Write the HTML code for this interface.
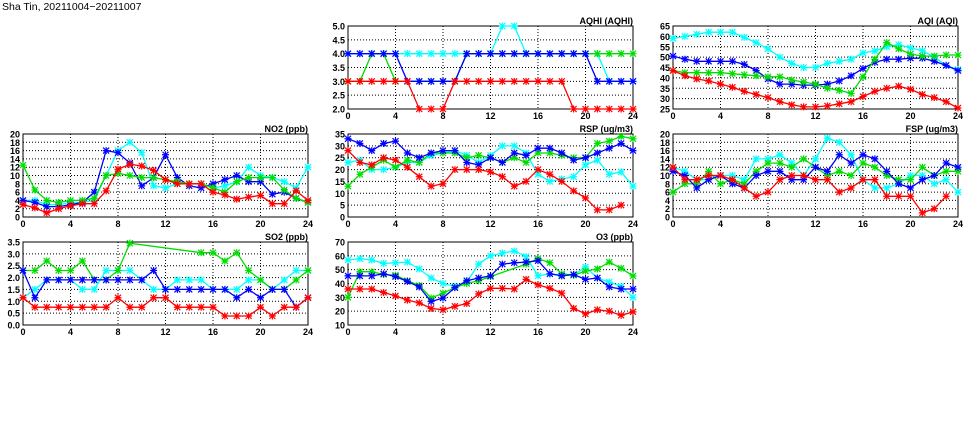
<!DOCTYPE html>
<html><head><meta charset="utf-8"><style>
body{margin:0;background:#fff;width:975px;height:447px;overflow:hidden}
svg{display:block}
text{font-family:"Liberation Sans",sans-serif;font-size:9px;font-weight:bold;fill:#000}
</style></head><body>
<svg id="s" width="975" height="447" xmlns="http://www.w3.org/2000/svg">
<text x="2" y="10" style="font-size:10.5px;font-weight:normal">Sha Tin, 20211004−20211007</text>
</svg>
<script>
var N=null;
function seq(a){return a.map(function(v,i){return v===N?null:[i,v];}).filter(function(p){return p;});}
var C={r:"#ff0000",g:"#00dd00",b:"#0000ff",c:"#00ffff"};
var panels=[
{t:"AQHI (AQHI)",x:348,y:26,min:2,max:5,step:0.5,dec:1,s:[
["c",seq([4,4,4,4,4,4,4,4,4,4,4,4,4,5,5,4,4,4,4,4,4,4,3,3,3])],
["g",seq([3,3,4,4,3,3,3,3,3,3,4,4,4,4,4,4,4,4,4,4,4,4,4,4,4])],
["b",seq([4,4,4,4,4,3,3,3,3,3,4,4,4,4,4,4,4,4,4,4,4,3,3,3,3])],
["r",seq([3,3,3,3,3,3,2,2,2,3,3,3,3,3,3,3,3,3,3,2,2,2,2,2,2])]]},
{t:"AQI (AQI)",x:673,y:26,min:25,max:65,step:5,dec:0,s:[
["c",seq([59,60,61,62,62,62,59.5,57,54,50,47,45,45,47,48,49,52,53,55,56,54.5,53,50,46,44])],
["b",seq([50.5,49,48,48,48,48,46.5,43.5,39.5,37,37,36.5,36.5,37,38.5,41,44.5,47.5,49,49,49.5,49.5,48,46,43.5])],
["g",seq([43.5,42.5,42.5,42.5,42.5,42,41.5,41,40.5,40.5,39,38,37,35,34,32.5,40.5,49,57,54,51.5,50.5,50.5,51,51])],
["r",seq([43.5,41,39.5,38.5,37,35.5,33.5,32,30.5,28.5,27,26,26,26.5,27.5,28.5,31,33.5,35,36,34.5,32,30.5,28.5,25.5])]]},
{t:"NO2 (ppb)",x:23,y:134,min:0,max:20,step:2,dec:0,s:[
["c",seq([4,4,3,3,3.5,3.5,4,10,16,18,15.5,7.5,7,8,8,8,7,7.5,8.5,12,10,9.5,8.5,7,12])],
["b",seq([4,3.5,2.5,2.5,3,3.5,6,16,15.5,13,7.5,9.5,15,9.5,7.5,7,8,9,10,8.5,8.5,5.5,6,4.5,3.5])],
["g",seq([12.5,6.5,4,3.5,4,4,4.5,10,10.5,10,9.5,9.5,9,8.5,8,8,7,6,8.5,9.5,9.5,9.5,6.5,4.5,3.5])],
["r",seq([3,2.2,1,2,2.7,3.2,3.2,6.3,11.5,12.7,12.3,11.2,9,8,8,8,6,5.3,4.3,4.8,5.2,3.2,3.2,6.3,4])]]},
{t:"RSP (ug/m3)",x:348,y:134,min:0,max:35,step:5,dec:0,s:[
["c",seq([23,24,20,20,21,23,23,26,27,28,26,23,26,30,30,27,18,15,16,17,22,24,18,19,13])],
["g",seq([13,18,21,24,21,24,23,27,27,27,25,26,25,23,25,23,27,27,26,25,25,31,32,34,33])],
["b",seq([33,31,28,31,32,27,25,27,28,28,23,22,25,23,27,26,29,29,27,24,25,27,29,31,28])],
["r",seq([28,23,22,25,24,21,17,13,14,20,20,20,19,17,13,15,20,18,15,11,8,3,3,5,N])]]},
{t:"FSP (ug/m3)",x:673,y:134,min:0,max:20,step:2,dec:0,s:[
["c",seq([12,11,9,9,10,10,9,14,14,15,13,10,14,19,18,15,9,7,7,8,10,10,8,9,6])],
["g",seq([6,8,8,11,8,9,8,11,13,13,12,14,12,10,11,10,13,12,10,9,9,12,10,11,11])],
["b",seq([11,10,7,9,10,8,7,10,11,11,9,9,12,11,15,13,15,14,11,8,7,9,10,13,12])],
["r",seq([12,9,9,10,10,9,7,5,6,9,10,10,9,9,6,7,9,9,5,5,5,1,2,5,N])]]},
{t:"SO2 (ppb)",x:23,y:242,min:0,max:3.5,step:0.5,dec:1,s:[
["c",seq([1.15,1.5,1.9,1.9,1.9,1.5,1.5,2.3,2.3,2.3,1.9,1.5,1.5,1.9,1.9,1.9,1.5,1.5,1.5,1.9,1.9,1.5,1.9,2.3,2.3])],
["g",seq([2.3,2.3,2.7,2.3,2.3,2.7,1.9,1.9,2.3,3.45,N,N,N,N,N,3.05,3.05,2.7,3.05,2.3,1.9,1.5,1.5,1.9,2.3])],
["b",seq([2.3,1.15,1.9,1.9,1.9,1.9,1.9,1.9,1.9,1.9,1.9,2.3,1.5,1.5,1.5,1.5,1.5,1.5,1.15,1.5,1.15,1.5,1.5,0.75,1.15])],
["r",seq([1.15,0.75,0.75,0.75,0.75,0.75,0.75,0.75,1.15,0.75,0.75,1.15,1.15,0.75,0.75,0.75,0.75,0.38,0.38,0.38,0.75,0.38,0.75,0.75,1.15])]]},
{t:"O3 (ppb)",x:348,y:242,min:10,max:70,step:10,dec:0,s:[
["c",seq([57,58,57,54.5,55,55.5,50.5,44,40,38,41,54,60,62,63.5,59.5,45.5,47,46,46,52,44,41,38,30])],
["g",seq([30,48.5,48.5,46.5,46,42,38.5,29.5,33,37,40,42,45,N,N,54,58,55,47,46,49,50.5,55.5,51,45.5])],
["b",seq([45.5,45.5,45.5,47,45,41.5,37.5,27,29.5,37,42,44,45.5,54,55,55.5,56.5,47,45.5,46.5,43,44,37.5,36,36])],
["r",seq([36,36,36,33.5,31,28,26,22,21,23.5,25.5,32.5,36.5,36.5,36,43,39,36.5,33,22,18,21,20,17,19.5])]]}
];
var W=285,H=83,h="";
panels.forEach(function(p){
 var X=function(v){return p.x+v*W/24;},Y=function(v){return p.y+H-(v-p.min)/(p.max-p.min)*H;};
 for(var v=p.min;v<=p.max+1e-9;v+=p.step){var y=Y(v);
  if(v>p.min+1e-9&&v<p.max-1e-9)h+='<line x1="'+p.x+'" x2="'+(p.x+W)+'" y1="'+y+'" y2="'+y+'" stroke="#000" stroke-width="1" stroke-dasharray="1,2"/>';
  h+='<text x="'+(p.x-3)+'" y="'+(y+3.5)+'" text-anchor="end">'+v.toFixed(p.dec)+'</text>';}
 for(var t=0;t<=24;t+=4){var x=X(t);
  if(t>0&&t<24)h+='<line x1="'+x+'" x2="'+x+'" y1="'+p.y+'" y2="'+(p.y+H)+'" stroke="#000" stroke-width="1" stroke-dasharray="1,2"/>';
  h+='<text x="'+x+'" y="'+(p.y+H+10)+'" text-anchor="middle">'+t+'</text>';}
 h+='<rect x="'+p.x+'" y="'+p.y+'" width="'+W+'" height="'+H+'" fill="none" stroke="#000" stroke-width="1"/>';
 h+='<text x="'+(p.x+W)+'" y="'+(p.y-2)+'" text-anchor="end">'+p.t+'</text>';
 p.s.forEach(function(s){var col=C[s[0]],pts=s[1];
  h+='<polyline fill="none" stroke="'+col+'" stroke-width="1.3" points="'+pts.map(function(q){return X(q[0]).toFixed(1)+','+Y(q[1]).toFixed(1);}).join(' ')+'"/>';
  pts.forEach(function(q){var x=X(q[0]),y=Y(q[1]);
   h+='<path d="M'+(x-3)+' '+(y-3)+'L'+(x+3)+' '+(y+3)+'M'+(x-3)+' '+(y+3)+'L'+(x+3)+' '+(y-3)+'M'+(x-3.5)+' '+y+'L'+(x+3.5)+' '+y+'M'+x+' '+(y-3.5)+'L'+x+' '+(y+3.5)+'" stroke="'+col+'" stroke-width="1.2"/>';});
 });
});
document.getElementById("s").insertAdjacentHTML("beforeend",h);
</script>
</body></html>
